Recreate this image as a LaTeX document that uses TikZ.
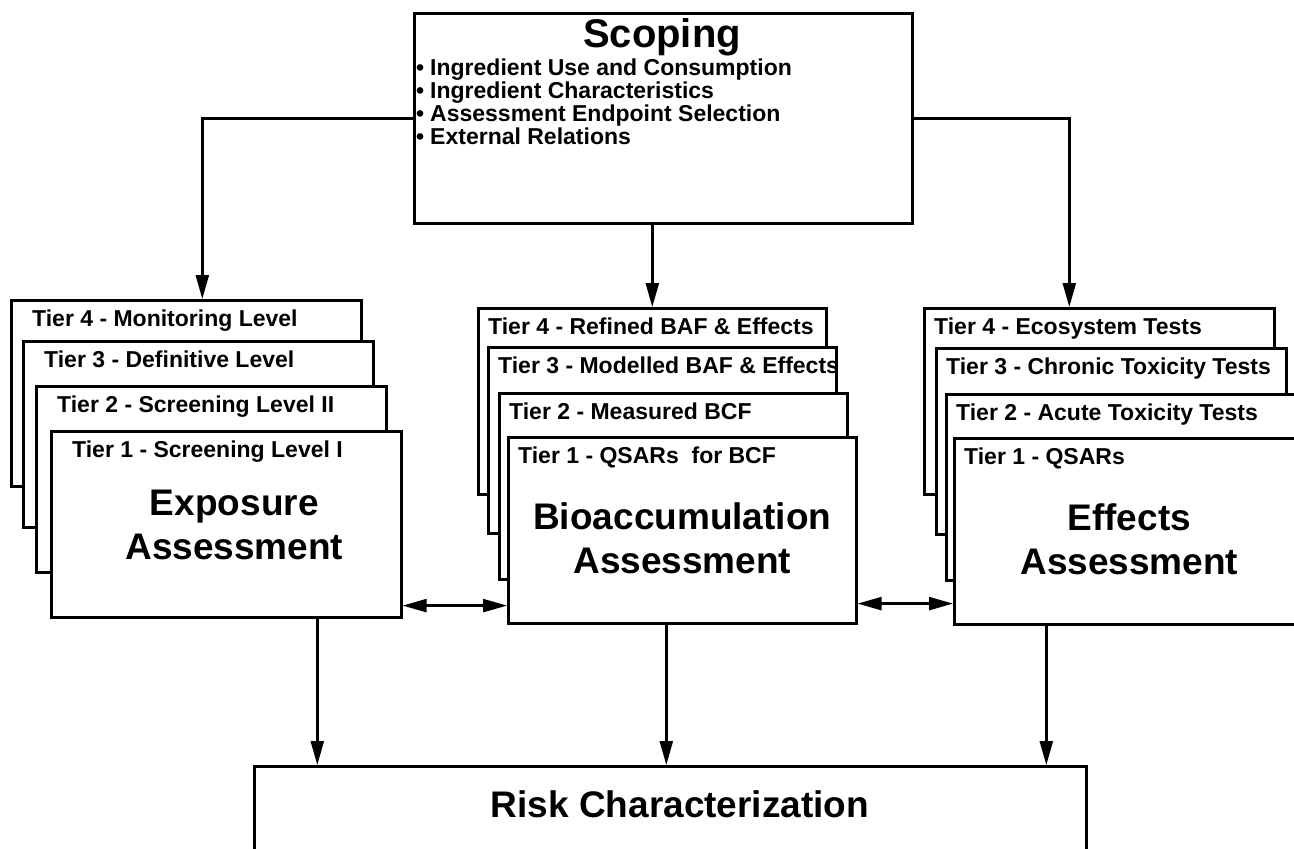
\documentclass[tikz,border=0pt]{standalone}
\usepackage{fontspec}
\setmainfont{Liberation Sans}
\usetikzlibrary{positioning,arrows.meta,calc}

\begin{document}
\begin{tikzpicture}[x=1pt,y=-1pt,
  tierbox/.style={draw,line width=2.6pt,fill=white,minimum width=350pt,minimum height=186pt,anchor=north west,inner sep=0pt},
  tiertext/.style={font=\fontsize{23}{26}\selectfont\bfseries,anchor=base west,inner sep=0pt},
  bigtext/.style={font=\fontsize{37}{44}\selectfont\bfseries,align=center,anchor=north,inner sep=0pt},
  arr/.style={line width=2.4pt,-{Triangle[length=24pt,width=13pt]}},
  dblarr/.style={line width=2.4pt,{Triangle[length=24pt,width=13pt]}-{Triangle[length=24pt,width=13pt]}}]
  \clip (0,0) rectangle (1294,849);

  % scoping box on top
  \node[draw,line width=2.6pt,anchor=north west,minimum width=498pt,minimum height=210pt] (scope) at (413,12) {};
  \node[font=\fontsize{40}{44}\selectfont\bfseries,anchor=base,inner sep=0pt] (scopetitle) at (662,47) {Scoping};
  \node[font=\fontsize{23}{23}\selectfont\bfseries,align=left,anchor=north west,inner sep=0pt] (scopelist) at (416,59)
    {\textbullet\hspace{6pt}Ingredient Use and Consumption\\
     \textbullet\hspace{6pt}Ingredient Characteristics\\
     \textbullet\hspace{6pt}Assessment Endpoint Selection\\
     \textbullet\hspace{6pt}External Relations};

  % three stacks of tiers, back to front
  \foreach \tnum/\tx/\ty/\tname in {4/10/299/Monitoring Level, 3/22/340/Definitive Level,
      2/35/385/Screening Level II, 1/50/430/Screening Level I} {
    \node[tierbox] (exp\tnum) at (\tx,\ty) {};
    \node[tiertext] (exptxt\tnum) at ([shift={(22,27)}]exp\tnum.north west) {Tier \tnum\ - \tname};
  }
  \foreach \tnum/\tx/\ty/\tname in {4/477/307/Refined BAF \& Effects, 3/487/346/Modelled BAF \& Effects,
      2/498/392/Measured BCF, 1/507/436/QSARs\ \ for BCF} {
    \node[tierbox,minimum width=348pt] (bio\tnum) at (\tx,\ty) {};
    \node[tiertext] (biotxt\tnum) at ([shift={(11,27)}]bio\tnum.north west) {Tier \tnum\ - \tname};
  }
  \foreach \tnum/\tx/\ty/\tname in {4/923/307/Ecosystem Tests, 3/935/347/Chronic Toxicity Tests,
      2/945/393/Acute Toxicity Tests, 1/953/437/QSARs} {
    \node[tierbox] (eff\tnum) at (\tx,\ty) {};
    \node[tiertext] (efftxt\tnum) at ([shift={(11,27)}]eff\tnum.north west) {Tier \tnum\ - \tname};
  }
  \node[bigtext] (explabel) at ([shift={(8,60)}]exp1.north) {Exposure\\Assessment};
  \node[bigtext] (biolabel) at ([shift={(0,66)}]bio1.north) {Bioaccumulation\\Assessment};
  \node[bigtext] (efflabel) at ([shift={(0,66)}]eff1.north) {Effects\\Assessment};

  % risk box at the bottom
  \node[draw,line width=2.6pt,anchor=north west,minimum width=832pt,minimum height=110pt] (risk) at (253,765) {};
  \node[font=\fontsize{37}{44}\selectfont\bfseries,anchor=base,inner sep=0pt] (risktext) at (680,817) {Risk Characterization};

  % connectors
  \draw[arr] (scope.west) -| ([xshift=16pt]exp4.north);
  \draw[arr] (bio4.north |- scope.south) -- (bio4.north);
  \draw[arr] (scope.east) -| ([xshift=-30pt]eff4.north);
  \draw[dblarr] ([yshift=13pt]exp1.south east) -- ([yshift=13pt]exp1.south east -| bio1.west);
  \draw[dblarr] ([yshift=21pt]bio1.south east) -- ([yshift=21pt]bio1.south east -| eff1.west);
  \draw[arr] ([xshift=91pt]exp1.south) -- ([xshift=91pt]exp1.south |- risk.north);
  \draw[arr] ([xshift=-16pt]bio1.south) -- ([xshift=-16pt]bio1.south |- risk.north);
  \draw[arr] ([xshift=-83pt]eff1.south) -- ([xshift=-83pt]eff1.south |- risk.north);
\end{tikzpicture}
\end{document}
